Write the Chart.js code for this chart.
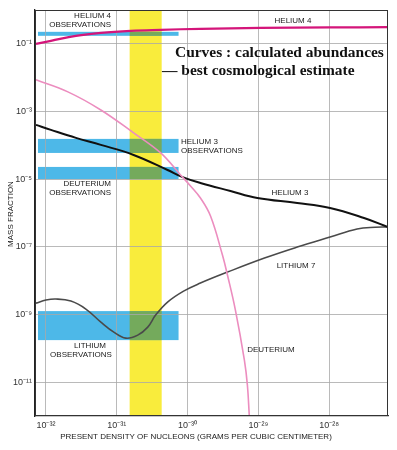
<!DOCTYPE html>
<html><head><meta charset="utf-8">
<script src="https://cdn.jsdelivr.net/npm/chart.js@4/dist/chart.umd.min.js"></script>
<style>html,body{margin:0;padding:0;background:#fff;}canvas{display:block;}</style>
</head><body>
<canvas id="c" width="397" height="450"></canvas>
<script>
// ---- tick values ----
const xTicks = [1e-32, 1e-31, 1e-30, 1e-29, 1e-28];
const yTicks = [1e-1, 1e-3, 1e-5, 1e-7, 1e-9, 1e-11];

// ---- series (density in g/cm^3, mass fraction) ----
const helium4Density  = [7.23e-33, 1.175e-32, 2.65e-32, 5.96e-32, 1.575e-31, 4.17e-31, 1.525e-30, 1.067e-29, 1.033e-28, 6.78e-28];
const helium4Fraction = [0.100, 0.1227, 0.1726, 0.2115, 0.2425, 0.2596, 0.278, 0.295, 0.305, 0.312];

const deuteriumDensity  = [7.23e-33, 2.04e-32, 5.96e-32, 1.73e-31, 4.17e-31, 7.96e-31, 1.10e-30, 1.52e-30, 2.11e-30, 3.11e-30, 3.66e-30, 4.74e-30, 6.35e-30, 7.0e-30, 7.46e-30];
const deuteriumFraction = [8.61e-3, 3.80e-3, 1.11e-3, 2.33e-4, 5.96e-5, 1.33e-5, 6.30e-6, 2.78e-6, 8.15e-7, 5.71e-8, 1.47e-8, 1.35e-9, 4.48e-11, 8.15e-12, 9.5e-13];

const helium3Density  = [7.23e-33, 1.175e-32, 2.65e-32, 5.96e-32, 1.73e-31, 5.22e-31, 8.51e-31, 1.52e-30, 4.04e-30, 9.68e-30, 3.54e-29, 1.03e-28, 3.11e-28, 6.78e-28];
const helium3Fraction = [4.02e-4, 2.86e-4, 1.66e-4, 1.03e-4, 5.20e-5, 1.87e-5, 1.15e-5, 7.73e-6, 4.48e-6, 2.78e-6, 1.98e-6, 1.41e-6, 7.11e-7, 3.85e-7];

const lithium7Density  = [7.23e-33, 1.00e-32, 1.38e-32, 2.25e-32, 3.66e-32, 5.96e-32, 9.08e-32, 1.34e-31, 1.98e-31, 2.74e-31, 3.54e-31, 5.22e-31, 8.79e-31, 1.52e-30, 3.66e-30, 1.22e-29, 3.54e-29, 1.03e-28, 2.48e-28, 4.45e-28, 6.78e-28];
const lithium7Fraction = [2.17e-9, 2.67e-9, 2.86e-9, 2.49e-9, 1.45e-9, 5.96e-10, 3.01e-10, 2.00e-10, 2.46e-10, 4.24e-10, 9.59e-10, 2.33e-9, 4.92e-9, 8.49e-9, 1.79e-8, 4.67e-8, 9.86e-8, 1.95e-7, 3.37e-7, 3.8e-7, 3.85e-7];

// ---- observation ranges ----
const observedDensityRange = [7.71e-33, 7.46e-31];
const bestEstimateDensity  = [1.52e-31, 4.31e-31];
const helium4Observed   = [0.1726, 0.2265];
const helium3Observed   = [5.96e-5, 1.55e-4];
const deuteriumObserved = [1.0e-5, 2.30e-5];
const lithiumObserved   = [1.75e-10, 1.26e-9];

const toPts = (xs, ys) => xs.map((x, i) => ({x, y: ys[i]}));
const SUP = {'-':'⁻','0':'⁰','1':'¹','2':'²','3':'³','4':'⁴','5':'⁵','6':'⁶','7':'⁷','8':'⁸','9':'⁹'};
const pow10 = v => '10' + String(Math.round(Math.log10(v))).split('').map(c => SUP[c]).join('');

const BLUE = '#4db8e8', YELLOW = '#f9ec3c', GREEN = '#74aa5c';
const SMALL = '8px "Liberation Sans", Arial, sans-serif';

const bandPlugin = {
  id: 'bands',
  beforeDraw(chart) {
    const {ctx, chartArea: a, scales: {x, y}} = chart;
    ctx.save();
    ctx.beginPath(); ctx.rect(a.left, a.top, a.right - a.left, a.bottom - a.top); ctx.clip();
    const yx0 = x.getPixelForValue(bestEstimateDensity[0]);
    const yx1 = x.getPixelForValue(bestEstimateDensity[1]);
    ctx.fillStyle = YELLOW;
    ctx.fillRect(yx0, a.top, yx1 - yx0, a.bottom - a.top);
    const bx0 = x.getPixelForValue(observedDensityRange[0]);
    const bx1 = x.getPixelForValue(observedDensityRange[1]);
    [helium4Observed, helium3Observed, deuteriumObserved, lithiumObserved].forEach(r => {
      const top = y.getPixelForValue(r[1]), bot = y.getPixelForValue(r[0]);
      ctx.fillStyle = BLUE;
      ctx.fillRect(bx0, top, bx1 - bx0, bot - top);
      ctx.fillStyle = GREEN;
      const ox0 = Math.max(bx0, yx0), ox1 = Math.min(bx1, yx1);
      ctx.fillRect(ox0, top, ox1 - ox0, bot - top);
    });
    ctx.restore();
  },
  afterDraw(chart) {
    const {ctx, chartArea: a} = chart;
    ctx.save();
    ctx.strokeStyle = '#333'; ctx.lineWidth = 1;
    ctx.strokeRect(a.left + 0.5, a.top + 0.5, a.right - a.left - 1, a.bottom - a.top - 1);
    ctx.fillStyle = '#1a1a1a';
    ctx.font = SMALL;
    ctx.textBaseline = 'middle';
    const t = (s, px, py, al) => { ctx.textAlign = al; ctx.fillText(s, px, py); };
    t('HELIUM 4', 111, 16, 'right');
    t('OBSERVATIONS', 111, 25, 'right');
    t('HELIUM 3', 181, 142, 'left');
    t('OBSERVATIONS', 181, 151, 'left');
    t('DEUTERIUM', 111, 184, 'right');
    t('OBSERVATIONS', 111, 193, 'right');
    t('LITHIUM', 90, 346, 'center');
    t('OBSERVATIONS', 81, 355, 'center');
    t('HELIUM 4', 293, 21, 'center');
    t('HELIUM 3', 290, 193, 'center');
    t('LITHIUM 7', 296, 266, 'center');
    t('DEUTERIUM', 271, 350, 'center');
    // axis titles
    t('PRESENT DENSITY OF NUCLEONS (GRAMS PER CUBIC CENTIMETER)', 196, 437, 'center');
    ctx.save(); ctx.translate(11, 214); ctx.rotate(-Math.PI / 2);
    t('MASS FRACTION', 0, 0, 'center'); ctx.restore();
    // headline
    ctx.fillStyle = '#111';
    ctx.textBaseline = 'alphabetic';
    const fam = '"Liberation Serif", "DejaVu Serif", serif';
    ctx.font = 'bold 20px ' + fam;
    const l1 = 'Curves : calculated abundances';
    const sz = 20 * 209 / ctx.measureText(l1).width;
    ctx.font = 'bold ' + sz.toFixed(2) + 'px ' + fam;
    t(l1, 175, 57, 'left');
    t('— best cosmological estimate', 162, 75, 'left');
    ctx.restore();
  }
};

new Chart(document.getElementById('c'), {
  type: 'line',
  data: {
    datasets: [
      {label: 'Helium 4', data: toPts(helium4Density, helium4Fraction), borderColor: '#d4157a', borderWidth: 2.2},
      {label: 'Deuterium', data: toPts(deuteriumDensity, deuteriumFraction), borderColor: '#ec8dbf', borderWidth: 1.6},
      {label: 'Helium 3', data: toPts(helium3Density, helium3Fraction), borderColor: '#111111', borderWidth: 2},
      {label: 'Lithium 7', data: toPts(lithium7Density, lithium7Fraction), borderColor: '#4a4a4a', borderWidth: 1.6}
    ]
  },
  options: {
    responsive: false,
    animation: false,
    devicePixelRatio: 1,
    layout: {padding: {top: 10, right: 9, left: 0, bottom: 0}},
    elements: {point: {radius: 0}, line: {tension: 0.4, fill: false}},
    plugins: {legend: {display: false}, tooltip: {enabled: false}},
    scales: {
      x: {
        type: 'logarithmic',
        min: 7.23e-33, max: 6.78e-28,
        afterBuildTicks: s => { s.ticks = xTicks.map(v => ({value: v})); },
        afterFit: s => { s.height = 34; },
        ticks: {callback: v => pow10(v), font: {family: '"Liberation Sans", Arial, sans-serif', size: 9}, color: '#333', padding: 4, maxRotation: 0, autoSkip: false},
        grid: {color: '#a8a8a8', lineWidth: 0.8, drawTicks: false},
        border: {color: '#222', width: 1.3}
      },
      y: {
        type: 'logarithmic',
        min: 1e-12, max: 1,
        afterBuildTicks: s => { s.ticks = yTicks.map(v => ({value: v})); },
        afterFit: s => { s.width = 35; },
        ticks: {callback: v => pow10(v), font: {family: '"Liberation Sans", Arial, sans-serif', size: 9}, color: '#333', padding: 3, autoSkip: false},
        grid: {color: '#a8a8a8', lineWidth: 0.8, drawTicks: false},
        border: {color: '#222', width: 1.3}
      }
    }
  },
  plugins: [bandPlugin]
});
</script>
</body></html>
